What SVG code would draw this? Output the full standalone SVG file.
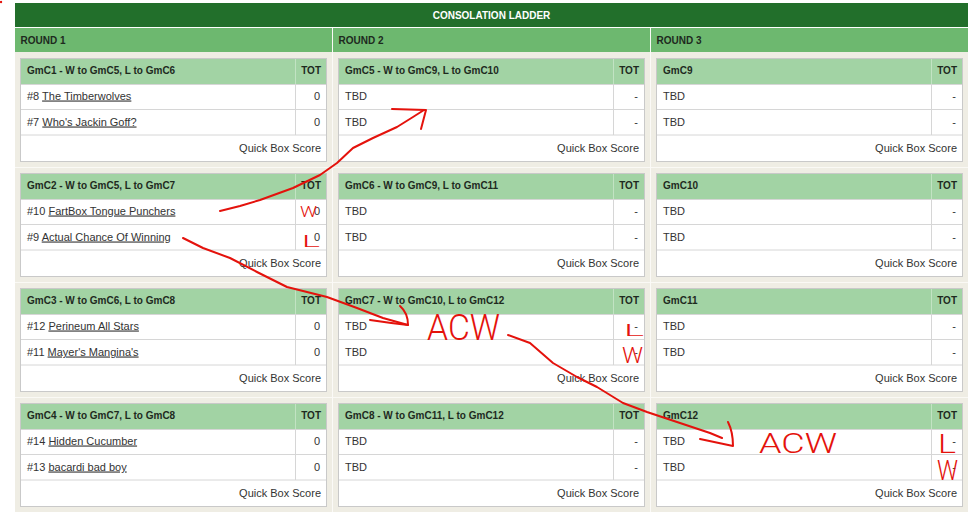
<svg xmlns="http://www.w3.org/2000/svg" width="979" height="518" viewBox="0 0 979 518">
<style>
.hdr{font:bold 10px 'Liberation Sans',Arial,sans-serif;fill:#fff}
.rnd{font:bold 10px 'Liberation Sans',Arial,sans-serif;fill:#1e2a1e}
.gh{font:bold 10px 'Liberation Sans',Arial,sans-serif;fill:#1e2a1e}
.t{font:11px 'Liberation Sans',Arial,sans-serif;fill:#333}
.e{text-anchor:end}
.u{text-decoration:underline}
.box{fill:#fff;stroke:#c9c9c9;stroke-width:1}
.ghbg{fill:#a2d3a4}
.sep{stroke:#d6d6d6;stroke-width:1;fill:none}
.hsep{stroke:#c2e3c3;stroke-width:1}
.col{fill:#efede4}
.cl{stroke:#faf9f5;stroke-width:1}
.ann{fill:none;stroke:#e4120c;stroke-width:2;stroke-linecap:round;stroke-linejoin:round}
.ant{fill:#e4120c;font-family:Roboto,'DejaVu Sans',sans-serif;font-weight:300}
.ans{fill:#e4120c;font-family:Roboto,'DejaVu Sans',sans-serif;font-weight:300}
</style>
<rect width="979" height="518" fill="#fff"/>
<circle cx="1" cy="2" r="1.2" fill="#e4120c"/>
<g id="header">
<rect x="15" y="3" width="953" height="24" fill="#226f2b"/>
<text class="hdr" x="491.5" y="18.5" text-anchor="middle">CONSOLATION LADDER</text>
</g>
<g id="columns">
<rect class="col" x="15" y="52" width="953" height="460"/>
<rect x="15" y="28" width="317" height="24" fill="#6db86f"/>
<rect x="333" y="28" width="317" height="24" fill="#6db86f"/>
<rect x="651" y="28" width="317" height="24" fill="#6db86f"/>
<path class="cl" d="M15 167.5H968M15 282.5H968M15 397.5H968"/>
<path d="M332.5 28V512M650.5 28V512" stroke="#fbfaf7" stroke-width="1"/>
<text class="rnd" x="20.5" y="43.5">ROUND 1</text>
<text class="rnd" x="338.5" y="43.5">ROUND 2</text>
<text class="rnd" x="656.5" y="43.5">ROUND 3</text>
</g>
<defs>
<g id="frame">
<rect class="box" x="0.5" y="0.5" width="306" height="103"/>
<rect class="ghbg" x="1" y="1" width="305" height="25.5"/>
<path class="hsep" d="M275.5 1V26"/>
<path class="sep" d="M1 26.5H306M1 51.5H306M1 77H306M275.5 26.5V77"/>
<text class="gh e" x="301" y="16">TOT</text>
<text class="t e" x="301" y="93.5">Quick Box Score</text>
</g>
</defs>
<g id="gmc1" transform="translate(20,58)"><use href="#frame"/>
<text class="gh" x="7" y="16">GmC1 - W to GmC5, L to GmC6</text>
<text class="t" x="7" y="41.5">#8 <tspan class="u">The Timberwolves</tspan></text><text class="t e" x="300" y="41.5">0</text>
<text class="t" x="7" y="67.5">#7 <tspan class="u">Who's Jackin Goff?</tspan></text><text class="t e" x="300" y="67.5">0</text></g>
<g id="gmc2" transform="translate(20,173)"><use href="#frame"/>
<text class="gh" x="7" y="16">GmC2 - W to GmC5, L to GmC7</text>
<text class="t" x="7" y="41.5">#10 <tspan class="u">FartBox Tongue Punchers</tspan></text><text class="t e" x="300" y="41.5">0</text>
<text class="t" x="7" y="67.5">#9 <tspan class="u">Actual Chance Of Winning</tspan></text><text class="t e" x="300" y="67.5">0</text></g>
<g id="gmc3" transform="translate(20,288)"><use href="#frame"/>
<text class="gh" x="7" y="16">GmC3 - W to GmC6, L to GmC8</text>
<text class="t" x="7" y="41.5">#12 <tspan class="u">Perineum All Stars</tspan></text><text class="t e" x="300" y="41.5">0</text>
<text class="t" x="7" y="67.5">#11 <tspan class="u">Mayer's Mangina's</tspan></text><text class="t e" x="300" y="67.5">0</text></g>
<g id="gmc4" transform="translate(20,403)"><use href="#frame"/>
<text class="gh" x="7" y="16">GmC4 - W to GmC7, L to GmC8</text>
<text class="t" x="7" y="41.5">#14 <tspan class="u">Hidden Cucumber</tspan></text><text class="t e" x="300" y="41.5">0</text>
<text class="t" x="7" y="67.5">#13 <tspan class="u">bacardi bad boy</tspan></text><text class="t e" x="300" y="67.5">0</text></g>
<g id="gmc5" transform="translate(338,58)"><use href="#frame"/>
<text class="gh" x="7" y="16">GmC5 - W to GmC9, L to GmC10</text>
<text class="t" x="7" y="41.5">TBD</text><text class="t e" x="300" y="41.5">-</text>
<text class="t" x="7" y="67.5">TBD</text><text class="t e" x="300" y="67.5">-</text></g>
<g id="gmc6" transform="translate(338,173)"><use href="#frame"/>
<text class="gh" x="7" y="16">GmC6 - W to GmC9, L to GmC11</text>
<text class="t" x="7" y="41.5">TBD</text><text class="t e" x="300" y="41.5">-</text>
<text class="t" x="7" y="67.5">TBD</text><text class="t e" x="300" y="67.5">-</text></g>
<g id="gmc7" transform="translate(338,288)"><use href="#frame"/>
<text class="gh" x="7" y="16">GmC7 - W to GmC10, L to GmC12</text>
<text class="t" x="7" y="41.5">TBD</text><text class="t e" x="300" y="41.5">-</text>
<text class="t" x="7" y="67.5">TBD</text><text class="t e" x="300" y="67.5">-</text></g>
<g id="gmc8" transform="translate(338,403)"><use href="#frame"/>
<text class="gh" x="7" y="16">GmC8 - W to GmC11, L to GmC12</text>
<text class="t" x="7" y="41.5">TBD</text><text class="t e" x="300" y="41.5">-</text>
<text class="t" x="7" y="67.5">TBD</text><text class="t e" x="300" y="67.5">-</text></g>
<g id="gmc9" transform="translate(656,58)"><use href="#frame"/>
<text class="gh" x="7" y="16">GmC9</text>
<text class="t" x="7" y="41.5">TBD</text><text class="t e" x="300" y="41.5">-</text>
<text class="t" x="7" y="67.5">TBD</text><text class="t e" x="300" y="67.5">-</text></g>
<g id="gmc10" transform="translate(656,173)"><use href="#frame"/>
<text class="gh" x="7" y="16">GmC10</text>
<text class="t" x="7" y="41.5">TBD</text><text class="t e" x="300" y="41.5">-</text>
<text class="t" x="7" y="67.5">TBD</text><text class="t e" x="300" y="67.5">-</text></g>
<g id="gmc11" transform="translate(656,288)"><use href="#frame"/>
<text class="gh" x="7" y="16">GmC11</text>
<text class="t" x="7" y="41.5">TBD</text><text class="t e" x="300" y="41.5">-</text>
<text class="t" x="7" y="67.5">TBD</text><text class="t e" x="300" y="67.5">-</text></g>
<g id="gmc12" transform="translate(656,403)"><use href="#frame"/>
<text class="gh" x="7" y="16">GmC12</text>
<text class="t" x="7" y="41.5">TBD</text><text class="t e" x="300" y="41.5">-</text>
<text class="t" x="7" y="67.5">TBD</text><text class="t e" x="300" y="67.5">-</text></g>
<g id="connectors">
<path class="ann" d="M220 211L240 206L260 200L293 188L320 175L337 163L353 148L373 138L397 127L413 117L424 110"/>
<path class="ann" d="M392 109L426 110L421 129"/>
<path class="ann" d="M183 238L203 248L230 258L257 272L287 287L327 297L357 308L383 318L408 325"/>
<path class="ann" d="M370 320Q390 323 408 325M400 306Q408 313 408 325"/>
<path class="ann" d="M508 335L530 343L553 363L577 377L597 387L623 403L647 412L677 422L710 433L722 438"/>
<path class="ann" d="M700 439L733 446M728 422Q733 432 733 446"/>
</g>
<g id="annotations">
<text class="ans" x="300" y="217" textLength="17" lengthAdjust="spacingAndGlyphs" font-size="15">W</text>
<text class="ans" x="302" y="247" textLength="18" lengthAdjust="spacingAndGlyphs" font-size="17">L</text>
<text class="ant" x="427" y="340" textLength="73" lengthAdjust="spacingAndGlyphs" font-size="37">ACW</text>
<text class="ans" x="624" y="336" textLength="20" lengthAdjust="spacingAndGlyphs" font-size="17">L</text>
<text class="ans" x="622" y="363" textLength="21" lengthAdjust="spacingAndGlyphs" font-size="22">W</text>
<text class="ant" x="759" y="453" textLength="78" lengthAdjust="spacingAndGlyphs" font-size="28">ACW</text>
<text class="ans" x="938" y="453" textLength="18" lengthAdjust="spacingAndGlyphs" font-size="25">L</text>
<text class="ans" x="937" y="480" textLength="21" lengthAdjust="spacingAndGlyphs" font-size="27">W</text>
</g>
</svg>
